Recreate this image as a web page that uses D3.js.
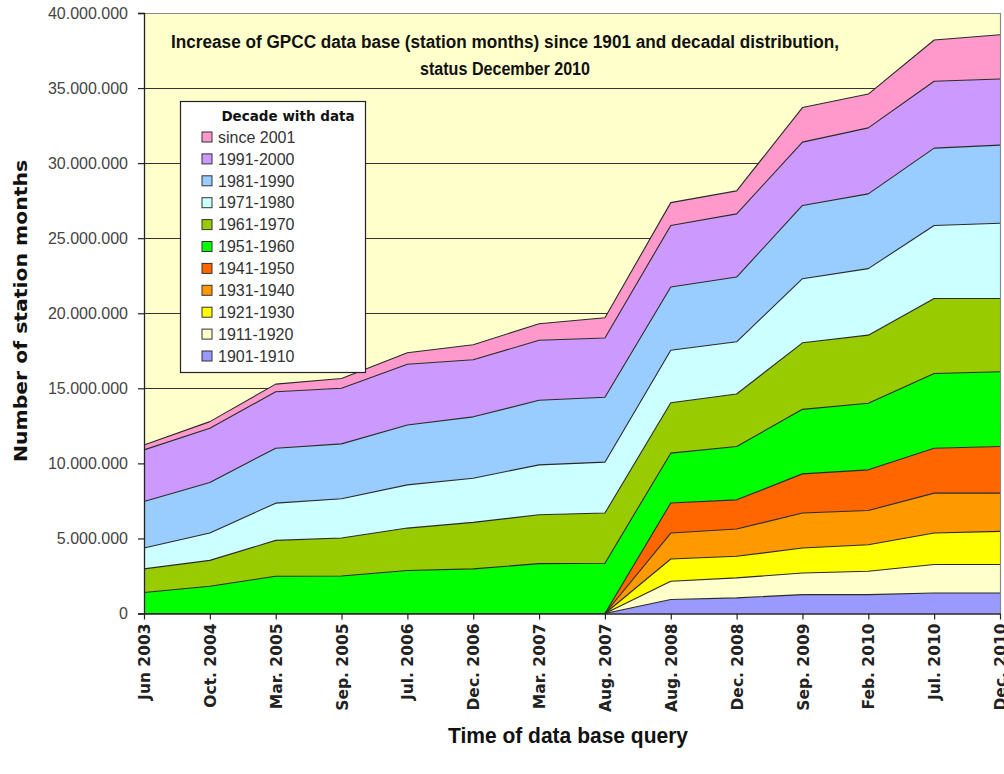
<!DOCTYPE html>
<html>
<head>
<meta charset="utf-8">
<script src="https://cdn.jsdelivr.net/npm/d3@7"></script>
<style>
  html, body { margin: 0; padding: 0; background: #ffffff; }
  svg { display: block; }
</style>
</head>
<body>
<svg id="chart" width="1004" height="774"></svg>
<script>
// ---------------- DATA ----------------
const categories = ["Jun 2003", "Oct. 2004", "Mar. 2005", "Sep. 2005", "Jul. 2006", "Dec. 2006",
  "Mar. 2007", "Aug. 2007", "Aug. 2008", "Dec. 2008", "Sep. 2009", "Feb. 2010", "Jul. 2010", "Dec. 2010"];

const unit = 1e6; // values below are in millions of station months

const d1901_1910 = [0, 0, 0, 0, 0, 0, 0, 0, 0.93, 1.04, 1.26, 1.26, 1.37, 1.37];
const d1911_1920 = [0, 0, 0, 0, 0, 0, 0, 0, 1.22, 1.33, 1.44, 1.55, 1.89, 1.89];
const d1921_1930 = [0, 0, 0, 0, 0, 0, 0, 0, 1.48, 1.44, 1.66, 1.77, 2.10, 2.21];
const d1931_1940 = [0, 0, 0, 0, 0, 0, 0, 0, 1.73, 1.82, 2.33, 2.28, 2.66, 2.55];
const d1941_1950 = [0, 0, 0, 0, 0, 0, 0, 0, 2.00, 1.94, 2.61, 2.71, 2.99, 3.10];
const d1951_1960 = [1.40, 1.82, 2.48, 2.50, 2.86, 2.97, 3.32, 3.35, 3.32, 3.55, 4.30, 4.43, 4.98, 4.98];
const d1961_1970 = [1.57, 1.72, 2.39, 2.53, 2.83, 3.10, 3.26, 3.34, 3.36, 3.50, 4.43, 4.54, 4.99, 4.88];
const d1971_1980 = [1.39, 1.82, 2.48, 2.61, 2.88, 2.94, 3.32, 3.39, 3.50, 3.48, 4.27, 4.43, 4.87, 5.02];
const d1981_1990 = [3.10, 3.37, 3.66, 3.66, 3.99, 4.09, 4.30, 4.32, 4.21, 4.31, 4.88, 4.98, 5.15, 5.20];
const d1991_2000 = [3.44, 3.61, 3.76, 3.70, 4.04, 3.80, 4.00, 3.95, 4.10, 4.21, 4.22, 4.40, 4.45, 4.40];
const dSince2001 = [0.33, 0.44, 0.51, 0.65, 0.77, 1.00, 1.10, 1.35, 1.52, 1.53, 2.30, 2.25, 2.75, 2.95];

// series, bottom of stack first
const seriesNames = ["1901-1910", "1911-1920", "1921-1930", "1931-1940", "1941-1950",
  "1951-1960", "1961-1970", "1971-1980", "1981-1990", "1991-2000", "since 2001"];
const seriesValues = [d1901_1910, d1911_1920, d1921_1930, d1931_1940, d1941_1950,
  d1951_1960, d1961_1970, d1971_1980, d1981_1990, d1991_2000, dSince2001];
const seriesColors = ["#9999FF", "#FFFFCC", "#FFFF00", "#FF9900", "#FF6600",
  "#00FF00", "#99CC00", "#CCFFFF", "#99CCFF", "#CC99FF", "#FF99CC"];

const yTicks = [0, 5e6, 10e6, 15e6, 20e6, 25e6, 30e6, 35e6, 40e6];

const titleLines = ["Increase of GPCC data base (station months) since 1901 and decadal distribution,",
  "status December 2010"];
const legendTitle = "Decade with data";
const yTitle = "Number of station months";
const xTitle = "Time of data base query";

// ---------------- CHART ----------------
const svg = d3.select("#chart");
const plot = { left: 144, right: 1000, top: 13, bottom: 613.5 };

const rows = categories.map((c, i) => {
  const r = { cat: c };
  seriesNames.forEach((n, k) => r[n] = seriesValues[k][i] * unit);
  return r;
});

const x = d3.scalePoint().domain(categories).range([plot.left, plot.right]).padding(0);
const y = d3.scaleLinear().domain([0, 40e6]).range([plot.bottom, plot.top]);

const stacked = d3.stack().keys(seriesNames)(rows);

// plot background
svg.append("rect")
  .attr("x", plot.left).attr("y", plot.top)
  .attr("width", plot.right - plot.left).attr("height", plot.bottom - plot.top)
  .attr("fill", "#FFFFCC");

// gridlines
svg.append("g")
  .selectAll("line").data(yTicks.filter(t => t > 0 && t < 40e6)).join("line")
  .attr("x1", plot.left).attr("x2", plot.right)
  .attr("y1", d => Math.round(y(d)) + 0.5).attr("y2", d => Math.round(y(d)) + 0.5)
  .attr("stroke", "#333").attr("stroke-width", 1.2);

// areas
const area = d3.area()
  .x(d => x(d.data.cat))
  .y0(d => y(d[0]))
  .y1(d => y(d[1]));
const topLine = d3.line()
  .x(d => x(d.data.cat))
  .y(d => y(d[1]));

const layers = svg.append("g");
stacked.forEach((s, k) => {
  layers.append("path").attr("d", area(s)).attr("fill", seriesColors[k]);
});
stacked.forEach((s, k) => {
  layers.append("path").attr("d", topLine(s)).attr("fill", "none")
    .attr("stroke", "#2a2a2a").attr("stroke-width", 1.1).attr("stroke-linejoin", "round");
});

// plot border (top & right)
svg.append("path")
  .attr("d", `M${plot.left},${plot.top + 0.5}H${plot.right + 0.5}V${plot.bottom}`)
  .attr("fill", "none").attr("stroke", "#888").attr("stroke-width", 1.2);

// y axis
const fmt = d3.formatLocale({ decimal: ",", thousands: ".", grouping: [3], currency: ["", ""] }).format(",d");
const yAxis = svg.append("g")
  .attr("transform", `translate(${plot.left},0)`)
  .call(d3.axisLeft(y).tickValues(yTicks).tickFormat(fmt).tickSize(6).tickPadding(10));
yAxis.select(".domain").attr("stroke", "#222").attr("stroke-width", 1.3);
yAxis.selectAll(".tick line").attr("stroke", "#222").attr("stroke-width", 1.2);
yAxis.selectAll("text")
  .attr("fill", "#444")
  .style("font-family", "'Liberation Sans', Arial, sans-serif")
  .style("font-size", "16px");

// x axis
const xAxis = svg.append("g")
  .attr("transform", `translate(0,${plot.bottom})`)
  .call(d3.axisBottom(x).tickSize(6).tickSizeOuter(0));
xAxis.select(".domain").attr("stroke", "#222").attr("stroke-width", 1.3);
xAxis.selectAll(".tick line").attr("stroke", "#222").attr("stroke-width", 1.2);
xAxis.selectAll("text")
  .attr("transform", "rotate(-90)")
  .attr("x", -10).attr("y", 0).attr("dy", "0.36em")
  .attr("text-anchor", "end")
  .attr("fill", "#222")
  .style("font-family", "'DejaVu Sans', Verdana, sans-serif")
  .style("font-weight", "bold")
  .style("font-size", "15.5px");

// title
const title = svg.append("text")
  .attr("text-anchor", "middle")
  .attr("fill", "#111")
  .style("font-family", "'Liberation Sans', Arial, sans-serif")
  .style("font-weight", "bold")
  .style("font-size", "17.5px");
title.append("tspan").attr("x", 505).attr("y", 48).attr("textLength", 668)
  .attr("lengthAdjust", "spacingAndGlyphs").text(titleLines[0]);
title.append("tspan").attr("x", 505).attr("y", 75).attr("textLength", 170)
  .attr("lengthAdjust", "spacingAndGlyphs").text(titleLines[1]);

// axis titles
svg.append("text")
  .attr("transform", "translate(27,311) rotate(-90)")
  .attr("text-anchor", "middle")
  .attr("fill", "#111")
  .attr("textLength", 302).attr("lengthAdjust", "spacingAndGlyphs")
  .style("font-family", "'DejaVu Sans', Verdana, sans-serif")
  .style("font-weight", "bold")
  .style("font-size", "18px")
  .text(yTitle);

svg.append("text")
  .attr("x", 568).attr("y", 743)
  .attr("text-anchor", "middle")
  .attr("fill", "#111")
  .attr("textLength", 240).attr("lengthAdjust", "spacingAndGlyphs")
  .style("font-family", "'Liberation Sans', Arial, sans-serif")
  .style("font-weight", "bold")
  .style("font-size", "22px")
  .text(xTitle);

// legend
const lg = svg.append("g").attr("transform", "translate(180,101)");
lg.append("rect").attr("x", 0.5).attr("y", 0.5).attr("width", 185).attr("height", 271)
  .attr("fill", "#ffffff").attr("stroke", "#222").attr("stroke-width", 1.2);
lg.append("text").attr("x", 108).attr("y", 20)
  .attr("text-anchor", "middle").attr("fill", "#111")
  .style("font-family", "'DejaVu Sans', Verdana, sans-serif")
  .style("font-weight", "bold").style("font-size", "13.5px")
  .text(legendTitle);
const legendOrder = seriesNames.map((n, k) => k).reverse();
legendOrder.forEach((k, i) => {
  const yy = 36 + i * 21.9;
  lg.append("rect").attr("x", 22).attr("y", yy - 5).attr("width", 10).attr("height", 10)
    .attr("fill", seriesColors[k]).attr("stroke", "#333").attr("stroke-width", 1);
  lg.append("text").attr("x", 38).attr("y", yy).attr("dy", "0.36em")
    .attr("fill", "#333")
    .style("font-family", "'Liberation Sans', Arial, sans-serif")
    .style("font-size", "16px")
    .text(seriesNames[k]);
});
</script>
</body>
</html>
